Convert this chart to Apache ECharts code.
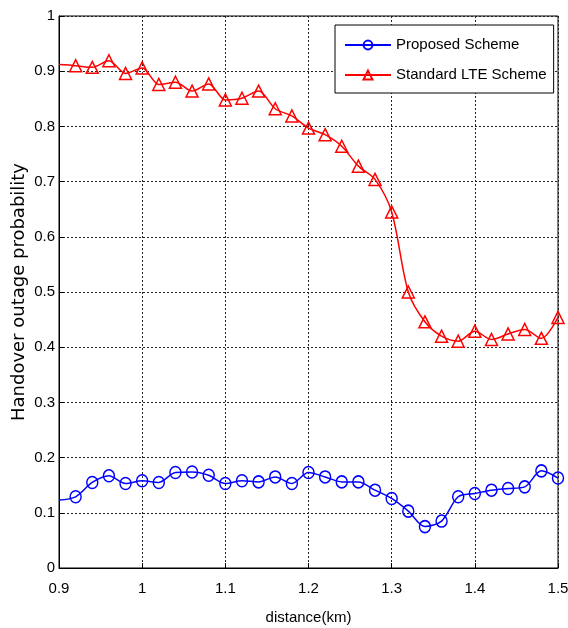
<!DOCTYPE html>
<html>
<head>
<meta charset="utf-8">
<script src="https://cdn.jsdelivr.net/npm/echarts@6/dist/echarts.min.js"></script>
<style>
html,body{margin:0;padding:0;background:#fff;}
#chart{width:568px;height:628px;}
</style>
</head>
<body>
<div id="chart"></div>
<script>
var distances = [0.90, 0.92, 0.94, 0.96, 0.98, 1.00, 1.02, 1.04, 1.06, 1.08, 1.10, 1.12, 1.14, 1.16, 1.18, 1.20,
                 1.22, 1.24, 1.26, 1.28, 1.30, 1.32, 1.34, 1.36, 1.38, 1.40, 1.42, 1.44, 1.46, 1.48, 1.50];
var proposed = [0.123, 0.129, 0.155, 0.167, 0.153, 0.158, 0.155, 0.173, 0.174, 0.168, 0.153, 0.158, 0.156, 0.165, 0.153, 0.173,
                0.165, 0.156, 0.156, 0.141, 0.126, 0.103, 0.075, 0.085, 0.129, 0.135, 0.141, 0.144, 0.147, 0.176, 0.163];
var standardLTE = [0.912, 0.910, 0.907, 0.919, 0.896, 0.906, 0.876, 0.880, 0.864, 0.877, 0.848, 0.851, 0.864, 0.832, 0.819, 0.797,
                   0.785, 0.764, 0.728, 0.704, 0.645, 0.500, 0.446, 0.420, 0.411, 0.429, 0.414, 0.424, 0.432, 0.416, 0.454];
var seriesNames = ['Proposed Scheme', 'Standard LTE Scheme'];
var xTicks = ['0.9', '1', '1.1', '1.2', '1.3', '1.4', '1.5'];
var yTicks = ['0', '0.1', '0.2', '0.3', '0.4', '0.5', '0.6', '0.7', '0.8', '0.9', '1'];

var FONT = '"Liberation Sans", Arial, sans-serif';

function build(vals) {
  return distances.map(function (d, i) {
    var item = { value: [d, vals[i]] };
    if (i === 0) item.symbol = 'none';
    return item;
  });
}

var chart = echarts.init(document.getElementById('chart'), null, { renderer: 'canvas' });
chart.setOption({
  animation: false,
  backgroundColor: '#fff',
  grid: { left: 59, right: 10, top: 16, bottom: 60, containLabel: false, outerBoundsMode: 'none',
          show: true, borderColor: '#000', borderWidth: 1, backgroundColor: 'transparent' },
  legend: {
    left: 335, top: 25, orient: 'vertical',
    backgroundColor: '#fff', borderColor: '#000', borderWidth: 1,
    padding: [11, 7, 9, 9],
    itemWidth: 46, itemHeight: 11, itemGap: 12,
    textStyle: { fontFamily: FONT, fontSize: 15, lineHeight: 18, color: '#000' },
    data: seriesNames
  },
  xAxis: {
    type: 'value', min: 0.9, max: 1.5, interval: 0.1,
    name: 'distance(km)', nameLocation: 'middle', nameGap: 42,
    nameTextStyle: { fontFamily: FONT, fontSize: 15, color: '#000' },
    axisLine: { show: true, lineStyle: { color: '#000', width: 1 } },
    axisTick: { show: true, inside: true, length: 5, lineStyle: { color: '#000' } },
    axisLabel: {
      fontFamily: FONT, fontSize: 15, color: '#000', margin: 13,
      formatter: function (v) { return xTicks[Math.round((v - 0.9) * 10)]; }
    },
    splitLine: { show: true, lineStyle: { color: '#222', type: [2, 2], width: 1 } }
  },
  yAxis: {
    type: 'value', min: 0, max: 1, interval: 0.1,
    name: 'Handover outage probability', nameLocation: 'middle', nameGap: 31, nameRotate: 90,
    nameMoveOverlap: false,
    nameTextStyle: { fontFamily: '"DejaVu Sans", sans-serif', fontSize: 18, color: '#000' },
    axisLine: { show: true, lineStyle: { color: '#000', width: 1 } },
    axisTick: { show: true, inside: true, length: 5, lineStyle: { color: '#000' } },
    axisLabel: {
      fontFamily: FONT, fontSize: 15, color: '#000', margin: 4,
      formatter: function (v) { return yTicks[Math.round(v * 10)]; }
    },
    splitLine: { show: true, lineStyle: { color: '#222', type: [2, 2], width: 1 } }
  },
  series: [
    {
      name: seriesNames[0], type: 'line', data: build(proposed), smooth: 0.3,
      symbol: 'circle', symbolSize: [11, 12], showAllSymbol: true,
      lineStyle: { color: '#0000ff', width: 1.5 },
      itemStyle: { color: 'rgba(0,0,0,0)', borderColor: '#0000ff', borderWidth: 1.5 },
      emphasis: { disabled: true }
    },
    {
      name: seriesNames[1], type: 'line', data: build(standardLTE), smooth: 0.3,
      symbol: 'triangle', symbolSize: [12, 12], showAllSymbol: true,
      lineStyle: { color: '#ff0000', width: 1.5 },
      itemStyle: { color: 'rgba(0,0,0,0)', borderColor: '#ff0000', borderWidth: 1.5 },
      emphasis: { disabled: true }
    }
  ]
});
</script>
</body>
</html>
